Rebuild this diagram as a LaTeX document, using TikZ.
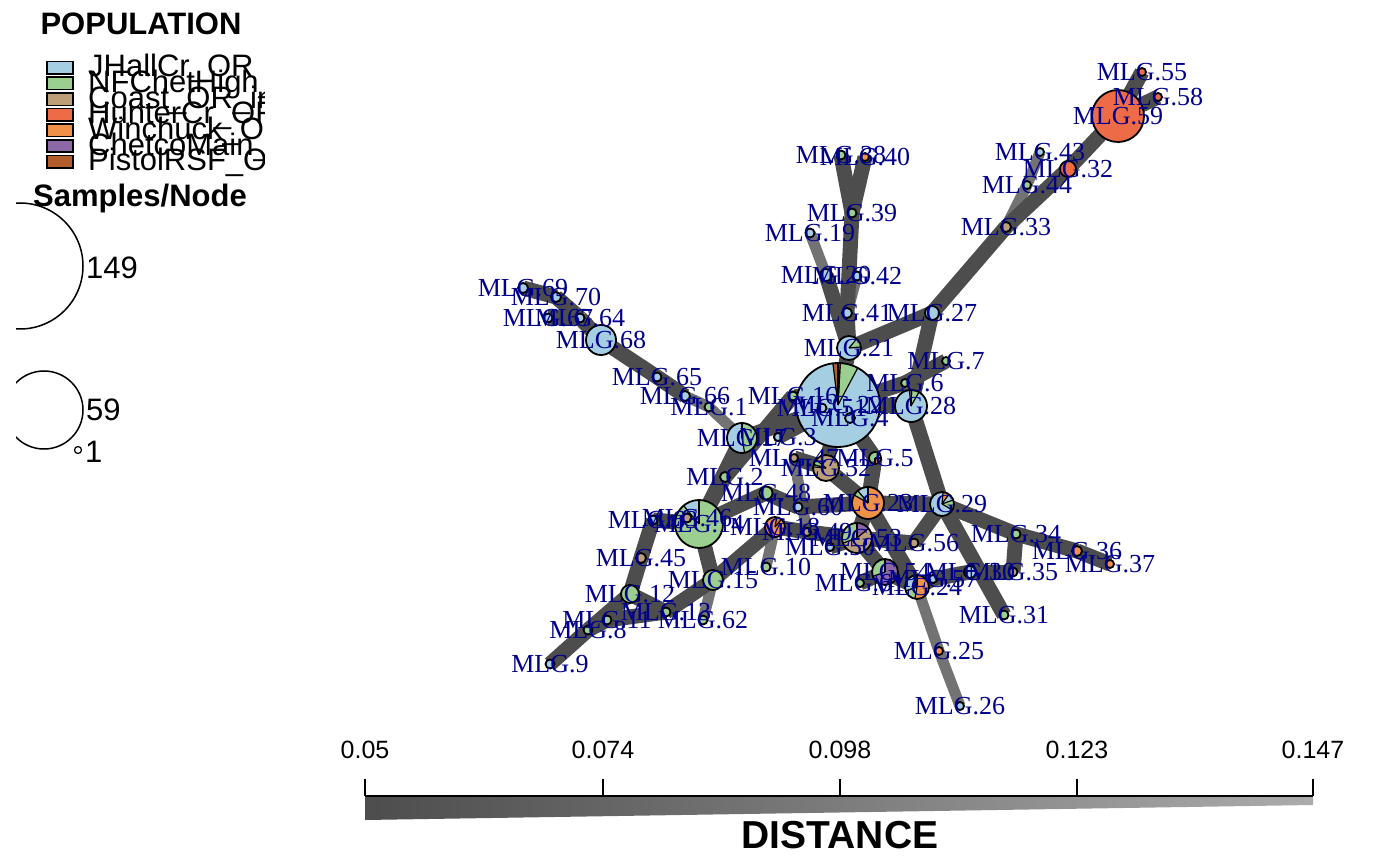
\documentclass[tikz,border=0pt]{standalone}
\usepackage{fontspec}
\setmainfont{Liberation Serif}
\newfontfamily\hsans{Liberation Sans}
\definecolor{cJH}{HTML}{A6CEE3}
\definecolor{cNF}{HTML}{9BCF8F}
\definecolor{cCO}{HTML}{BC9E78}
\definecolor{cHU}{HTML}{EE6B47}
\definecolor{cWI}{HTML}{F0914A}
\definecolor{cCH}{HTML}{8C68A6}
\definecolor{cPI}{HTML}{B35D2C}
\definecolor{labc}{HTML}{00008B}
\definecolor{edgeD}{HTML}{4D4D4D}
\definecolor{edgeL}{HTML}{737373}
\definecolor{gradR}{HTML}{ABABAB}
\tikzset{
  ed/.style={draw=edgeD, line width=15pt},
  el/.style={draw=edgeL, line width=11pt},
  nl/.style={draw=black, line width=1.8pt},
  lab/.style={text=labc, font=\fontsize{26}{26}\selectfont, inner sep=0pt},
  legtxt/.style={font=\hsans\fontsize{31}{31}\selectfont, inner sep=0pt, anchor=base west},
  legbox/.style={draw=black, line width=1.5pt},
  ttl/.style={font=\hsans\bfseries\fontsize{31}{31}\selectfont, inner sep=0pt},
  numtxt/.style={font=\hsans\fontsize{31}{31}\selectfont, inner sep=0pt, anchor=west},
  ticktxt/.style={font=\hsans\fontsize{25}{25}\selectfont, inner sep=0pt},
}
\newcommand\mnode[3]{\draw[nl, fill=#3] (#1) circle[radius=#2];}
\newcommand\pbase[3]{\fill[#3] (#1) circle[radius=#2];}
\newcommand\pw[5]{\fill[#5] (#1) -- ++({-(#3)}:#2) arc[start angle={-(#3)}, end angle={-(#4)}, radius=#2] -- cycle;
  \draw[black, line width=1.2pt] (#1) -- ++({-(#3)}:#2);
  \draw[black, line width=1.2pt] (#1) -- ++({-(#4)}:#2);}
\newcommand\pend[2]{\draw[nl] (#1) circle[radius=#2];}
\begin{document}
\begin{tikzpicture}[x=1pt,y=-1pt]
\useasboundingbox (0,0) rectangle (1400,866);
% ---------- coordinates of network nodes
\coordinate (n1) at (709,407);
\coordinate (n2) at (725,477);
\coordinate (n3) at (778,437);
\coordinate (n4) at (850,418);
\coordinate (n5) at (875,458);
\coordinate (n6) at (905,383);
\coordinate (n7) at (946,361);
\coordinate (n8) at (588,630);
\coordinate (n9) at (550,664);
\coordinate (n10) at (766,567);
\coordinate (n11) at (607,620);
\coordinate (n12) at (630,594);
\coordinate (n13) at (666,612);
\coordinate (n14) at (699,524);
\coordinate (n15) at (713,580);
\coordinate (n16) at (793,396);
\coordinate (n17) at (742,438);
\coordinate (n18) at (775,527);
\coordinate (n19) at (810,233);
\coordinate (n20) at (826,275);
\coordinate (n21) at (849,348);
\coordinate (n22) at (838,405);
\coordinate (n23) at (868,503);
\coordinate (n24) at (917,587);
\coordinate (n25) at (939,651);
\coordinate (n26) at (960,706);
\coordinate (n27) at (932,313);
\coordinate (n28) at (911,406);
\coordinate (n29) at (942,504);
\coordinate (n30) at (970,572);
\coordinate (n31) at (1004,615);
\coordinate (n32) at (1068,169);
\coordinate (n33) at (1006,227);
\coordinate (n34) at (1016,534);
\coordinate (n35) at (1013,572);
\coordinate (n36) at (1077,551);
\coordinate (n37) at (1110,564);
\coordinate (n38) at (841,155);
\coordinate (n39) at (852,213);
\coordinate (n40) at (865,157);
\coordinate (n41) at (847,313);
\coordinate (n42) at (857,276);
\coordinate (n43) at (1040,152);
\coordinate (n44) at (1027,185);
\coordinate (n45) at (641,558);
\coordinate (n46) at (687,518);
\coordinate (n47) at (794,458);
\coordinate (n48) at (766,493);
\coordinate (n49) at (807,532);
\coordinate (n50) at (830,547);
\coordinate (n51) at (822,408);
\coordinate (n52) at (826,468);
\coordinate (n53) at (857,538);
\coordinate (n54) at (885,572);
\coordinate (n55) at (1142,72);
\coordinate (n56) at (914,543);
\coordinate (n57) at (933,579);
\coordinate (n58) at (1158,97);
\coordinate (n59) at (1118,116);
\coordinate (n60) at (798,507);
\coordinate (n61) at (860,583);
\coordinate (n62) at (703,620);
\coordinate (n63) at (653,520);
\coordinate (n64) at (580,318);
\coordinate (n65) at (657,377);
\coordinate (n66) at (685,396);
\coordinate (n67) at (548,318);
\coordinate (n68) at (601,340);
\coordinate (n69) at (523,288);
\coordinate (n70) at (556,297);
% ---------- edges
\foreach \a/\b in {43/44,44/33,19/20,42/41,66/1,1/17,18/10,15/62,47/49,24/25,25/26}
  \draw[el] (n\a) -- (n\b);
\foreach \a/\b in {59/55,59/58,59/32,32/33,33/27,27/21,27/28,21/22,21/41,41/39,39/38,39/40,20/21,
  7/6,6/22,22/28,28/29,22/17,22/16,16/2,17/14,2/14,22/52,22/5,5/23,23/29,29/34,34/36,36/37,
  34/35,35/30,30/57,57/24,29/31,29/56,56/53,23/53,53/54,54/24,54/61,23/24,52/47,22/3,48/14,
  48/60,60/23,14/15,15/18,18/49,49/53,15/13,13/12,12/45,45/63,63/14,12/8,8/9,8/11,11/13,
  69/70,70/64,67/64,64/68,68/65,65/66,22/51,22/4,50/53,46/14,52/23}
  \draw[ed] (n\a) -- (n\b);
% ---------- single-colour nodes
\foreach \i/\r/\c in {55/4/cHU,58/4/cHU,43/4/cJH,32/8/cHU,44/4/cNF,33/5/cCO,38/4.5/cNF,40/4/cWI,
  39/4.5/cNF,19/4.5/cJH,20/6/cJH,42/4.5/cJH,41/5/cJH,27/7/cJH,7/4/cNF,6/4/cNF,16/4.5/cNF,
  51/4.5/cJH,4/5/cJH,3/4/cJH,47/4/cCO,2/5/cNF,48/6.5/cNF,60/4.5/cJH,46/4.5/cCO,63/4.5/cJH,
  45/5/cCO,49/4/cCO,50/4/cJH,61/4/cNF,56/4.5/cCO,57/4/cJH,30/6/cJH,35/4.5/cCO,34/4.5/cNF,
  36/5/cWI,37/4/cWI,31/4.5/cNF,25/4/cWI,26/4/cJH,10/4.5/cNF,15/10/cNF,12/9/cNF,13/4.5/cNF,
  62/4.5/cNF,11/4.5/cNF,8/4.5/cNF,9/4.5/cJH,65/4.5/cJH,66/5/cJH,1/4.5/cNF,68/15/cJH,
  64/4.5/cJH,67/4.5/cJH,70/5/cJH,69/5/cJH,59/26/cHU}
  {\mnode{n\i}{\r}{\c}}
% ---------- pie nodes
\pbase{n22}{42}{cJH}\pw{n22}{42}{62}{87}{cNF}\pw{n22}{42}{87}{90}{cHU}\pw{n22}{42}{90}{97}{cPI}\pend{n22}{42}
\pbase{n21}{12}{cJH}\pw{n21}{12}{5}{50}{cNF}\pend{n21}{12}
\pbase{n28}{16}{cJH}\pw{n28}{16}{60}{88}{cNF}\pw{n28}{16}{88}{96}{cCH}\pend{n28}{16}
\pbase{n17}{15}{cJH}\pw{n17}{15}{-80}{90}{cNF}\pend{n17}{15}
\pbase{n14}{24}{cNF}\pw{n14}{24}{90}{130}{cJH}\pend{n14}{24}
\mnode{n46}{4.5}{cCO}
\mnode{n63}{4.5}{cJH}
\pbase{n52}{13}{cCO}\pw{n52}{13}{140}{165}{cNF}\pw{n52}{13}{165}{175}{cJH}\pend{n52}{13}
\pbase{n23}{16}{cWI}\pw{n23}{16}{90}{130}{cJH}\pw{n23}{16}{130}{150}{cNF}\pend{n23}{16}
\pbase{n29}{12}{cJH}\pw{n29}{12}{55}{85}{cWI}\pw{n29}{12}{-30}{20}{cNF}\pend{n29}{12}
\pbase{n53}{15}{cCO}\pw{n53}{15}{40}{90}{cCH}\pw{n53}{15}{90}{200}{cNF}\pend{n53}{15}
\pbase{n54}{13}{cCH}\pw{n54}{13}{90}{200}{cNF}\pend{n54}{13}
\pbase{n24}{12}{cWI}\pw{n24}{12}{90}{200}{cJH}\pw{n24}{12}{200}{260}{cNF}\pend{n24}{12}
\pbase{n18}{10}{cWI}\pw{n18}{10}{50}{80}{cHU}\pend{n18}{10}
\pbase{n5}{6}{cNF}\pw{n5}{6}{-90}{0}{cWI}\pend{n5}{6}
\mnode{n16}{4.5}{cNF}\mnode{n51}{4.5}{cJH}\mnode{n4}{5}{cJH}\mnode{n3}{4}{cJH}
\mnode{n49}{4}{cCO}\mnode{n50}{4}{cJH}\mnode{n61}{4}{cNF}\mnode{n57}{4}{cJH}
% ---------- labels
\foreach \i in {1,...,70} \node[lab] (l\i) at (n\i) {MLG.\i};
% ---------- population legend
\node[ttl] (poptitle) at (141,24) {POPULATION};
\foreach \c/\y in {cJH/67.8,cNF/83.3,cCO/99.2,cHU/114.8,cWI/130.3,cCH/146,cPI/161.7}
  \draw[legbox, fill=\c] (47,\y-6.2) rectangle (73,\y+6.2);
\begin{scope}
\clip (0,40) rectangle (264,180);
\node[legtxt] (p1) at (88,77) {JHallCr\_OR};
\node[legtxt] (p2) at (88,92.5) {NFChetHigh\_OR};
\node[legtxt] (p3) at (88,108.4) {Coast\_OR\_int};
\node[legtxt] (p4) at (88,124) {HunterCr\_OR};
\node[legtxt] (p5) at (88,139.5) {Winchuck\_OR};
\node[legtxt] (p6) at (88,155.2) {ChetcoMain\_OR};
\node[legtxt] (p7) at (88,170.9) {PistolRSF\_OR};
\end{scope}
% ---------- size legend
\node[ttl] (sntitle) at (140,198) {Samples/Node};
\begin{scope}
\clip (16,190) rectangle (300,470);
\draw[black, line width=1.5pt] (20,266) circle[radius=63];
\draw[black, line width=1.5pt] (44,410) circle[radius=39];
\end{scope}
\draw[black, line width=1.2pt] (78,450) circle[radius=3.5];
\node[numtxt] (s149) at (86,268) {149};
\node[numtxt] (s59) at (86,410) {59};
\node[numtxt] (s1) at (85,452) {1};
% ---------- distance scale
\shade[left color=edgeD, right color=gradR] (365,797) -- (1313,797) -- (1313,805) -- (365,820) -- cycle;
\draw[black, line width=1.3pt] (365,796) -- (1313,796);
\foreach \x/\t in {365/0.05,603/0.074,840/0.098,1077/0.123,1313/0.147}{
  \draw[black, line width=1.3pt] (\x,779) -- (\x,796);
  \node[ticktxt] at (\x,750) {\t};
}
\node[font=\hsans\bfseries\fontsize{39}{39}\selectfont, inner sep=0pt] (dist) at (840,835) {DISTANCE};
\end{tikzpicture}
\end{document}
